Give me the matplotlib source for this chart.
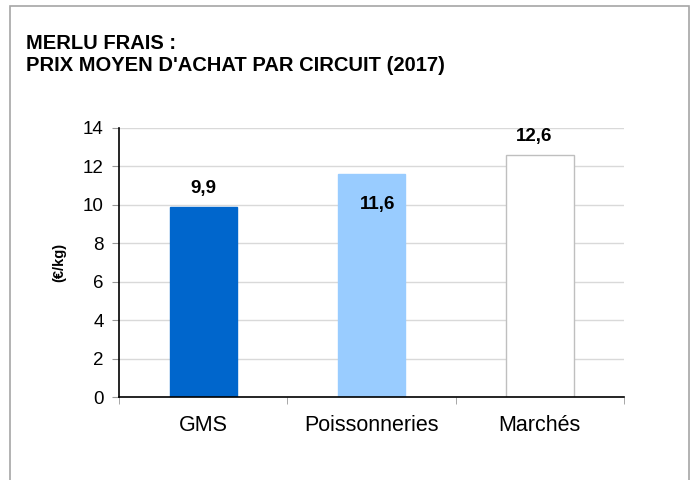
import matplotlib
matplotlib.use("Agg")
import matplotlib.pyplot as plt
from matplotlib.patches import Rectangle

plt.rcParams["font.family"] = ["Liberation Sans", "DejaVu Sans"]

circuits = ["GMS", "Poissonneries", "Marchés"]
prix = [9.9, 11.6, 12.6]
etiquettes = ["9,9", "11,6", "12,6"]
couleurs = ["#0066cc", "#99ccff", "#ffffff"]
bords = ["#0066cc", "#99ccff", "#bfbfbf"]
yticks = [0, 2, 4, 6, 8, 10, 12, 14]

W, H = 698, 480
fig = plt.figure(figsize=(W / 100, H / 100), dpi=100)
fig.patch.set_facecolor("white")

# cadre gris autour du graphique
fig.patches.append(Rectangle((10 / W, -0.05), 679 / W, 1.05 - 6 / H,
                             transform=fig.transFigure, fill=False,
                             edgecolor="#a6a6a6", linewidth=1.2))

fig.text(26 / W, 1 - 49 / H, "MERLU FRAIS :", fontsize=14.5,
         fontweight="bold", ha="left", va="baseline")
fig.text(26 / W, 1 - 71 / H, "PRIX MOYEN D'ACHAT PAR CIRCUIT (2017)", fontsize=14.5,
         fontweight="bold", ha="left", va="baseline")

ax = fig.add_axes([119 / W, 1 - 397 / H, (624 - 119) / W, (397 - 128) / H])
x = range(len(circuits))
ax.bar(x, prix, width=0.4, color=couleurs, edgecolor=bords, linewidth=1, zorder=3)

ax.set_xlim(-0.5, len(circuits) - 0.5)
ax.set_ylim(0, 14)
ax.set_yticks(yticks)
ax.set_yticklabels([str(v) for v in yticks], fontsize=13.5)
ax.set_xticks(list(x))
ax.set_xticklabels(circuits, fontsize=15.5)
ax.tick_params(axis="x", length=0, pad=13)
ax.tick_params(axis="y", length=5, color="#999999", pad=6)
# petits traits entre les catégories
ax.set_xticks([-0.5, 0.5, 1.5, 2.5], minor=True)
ax.tick_params(axis="x", which="minor", length=5, color="#999999")

ax.grid(axis="y", color="#d9d9d9", linewidth=1, zorder=0)
ax.set_axisbelow(True)
for side in ["top", "right"]:
    ax.spines[side].set_visible(False)
for side in ["left", "bottom"]:
    ax.spines[side].set_color("black")
    ax.spines[side].set_linewidth(1.2)
    ax.spines[side].set_zorder(4)

ax.set_ylabel("(€/kg)", fontsize=10.5, fontweight="bold", labelpad=12)

# étiquettes de valeurs
ax.text(0, prix[0] + 0.5, etiquettes[0], ha="center", va="bottom",
        fontsize=13.5, fontweight="bold", zorder=5)
ax.text(1 + 0.035, prix[1] - 1.6, etiquettes[1], ha="center", va="center",
        fontsize=13.5, fontweight="bold", zorder=5)
ax.text(2 - 0.035, prix[2] + 0.5, etiquettes[2], ha="center", va="bottom",
        fontsize=13.5, fontweight="bold", zorder=5, clip_on=False)

fig.savefig("out.png", dpi=100, facecolor="white")
